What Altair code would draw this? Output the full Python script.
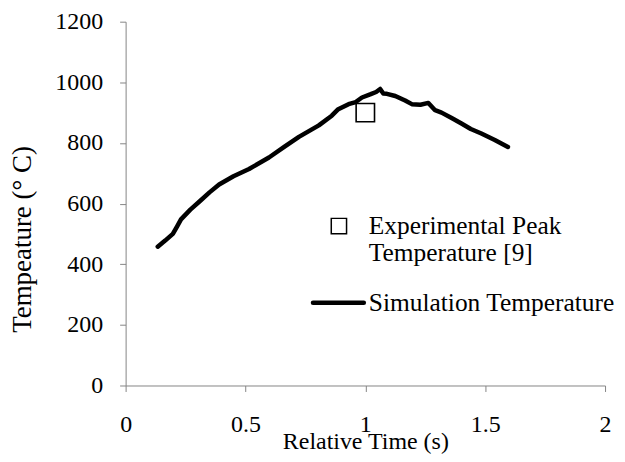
import altair as alt
import pandas as pd

# Simulation temperature curve
sim_time = [0.134, 0.165, 0.197, 0.215, 0.231, 0.27, 0.307, 0.35, 0.39, 0.45, 0.515,
            0.598, 0.66, 0.723, 0.806, 0.86, 0.885, 0.93, 0.96, 0.986, 1.02, 1.045,
            1.062, 1.075, 1.09, 1.125, 1.166, 1.194, 1.23, 1.263, 1.291, 1.318,
            1.36, 1.401, 1.44, 1.484, 1.54, 1.595]
sim_temp = [458, 478, 500, 525, 548, 580, 606, 637, 663, 690, 714,
            752, 786, 820, 858, 890, 910, 928, 935, 950, 960, 968,
            978, 963, 962, 955, 940, 928, 926, 932, 908, 900,
            882, 864, 846, 831, 810, 787]

# Experimental peak temperature
exp_time = [1.0]
exp_temp = [900]

x_ticks = [0, 0.5, 1, 1.5, 2]
y_ticks = [0, 200, 400, 600, 800, 1000, 1200]

FONT = "Liberation Serif"
FS = 24
LFS = 25.5
AX = "#868686"

sim_df = pd.DataFrame({"t": sim_time, "T": sim_temp})
exp_df = pd.DataFrame({"t": exp_time, "T": exp_temp})
one = pd.DataFrame({"a": [0]})

xscale = alt.Scale(domain=[0, 2], nice=False)
yscale = alt.Scale(domain=[0, 1200], nice=False)

xaxis = alt.Axis(values=x_ticks, format="~g", title="Relative Time (s)", grid=False,
                 labelFont=FONT, labelFontSize=FS, labelColor="black",
                 titleFont=FONT, titleFontSize=FS, titleColor="black", titleFontWeight="normal",
                 domainColor=AX, tickColor=AX, tickSize=6, labelPadding=21, titlePadding=-7,
                 labelFlush=False)
yaxis = alt.Axis(values=y_ticks, format="d", title="Tempeature (° C)", grid=False,
                 labelFont=FONT, labelFontSize=FS, labelColor="black",
                 titleFont=FONT, titleFontSize=27, titleColor="black", titleFontWeight="normal",
                 domainColor=AX, tickColor=AX, tickSize=6, labelPadding=17,
                 titleX=-103, titleY=218, titleAngle=-90, titleBaseline="middle", titleAlign="center",
                 labelFlush=False)

line = alt.Chart(sim_df).mark_line(color="black", strokeWidth=4.5, strokeCap="round",
                                   strokeJoin="round").encode(
    x=alt.X("t:Q", scale=xscale, axis=xaxis),
    y=alt.Y("T:Q", scale=yscale, axis=yaxis),
)

pts = alt.Chart(exp_df).mark_point(shape="square", filled=False, color="black",
                                   size=340, strokeWidth=1.6, opacity=1).encode(
    x=alt.X("t:Q", scale=xscale),
    y=alt.Y("T:Q", scale=yscale),
)

# Legend (drawn manually)
leg_sq = alt.Chart(one).mark_point(shape="square", filled=False, color="black",
                                   size=235, strokeWidth=1.5, opacity=1).encode(
    x=alt.value(214), y=alt.value(205))
leg_t1 = alt.Chart(one).mark_text(align="left", baseline="middle", font=FONT,
                                  fontSize=LFS, color="black").encode(
    x=alt.value(244), y=alt.value(205), text=alt.value("Experimental Peak"))
leg_t2 = alt.Chart(one).mark_text(align="left", baseline="middle", font=FONT,
                                  fontSize=LFS, color="black").encode(
    x=alt.value(244), y=alt.value(232), text=alt.value("Temperature [9]"))
leg_ln = alt.Chart(one).mark_rule(color="black", strokeWidth=4.5, strokeCap="round").encode(
    x=alt.value(188), x2=alt.value(239), y=alt.value(282))
leg_t3 = alt.Chart(one).mark_text(align="left", baseline="middle", font=FONT,
                                  fontSize=LFS, color="black").encode(
    x=alt.value(244), y=alt.value(282), text=alt.value("Simulation Temperature"))

chart = alt.layer(line, pts, leg_sq, leg_t1, leg_t2, leg_ln, leg_t3).properties(
    width=481, height=365,
    autosize=alt.AutoSizeParams(type="none"),
    padding={"left": 118, "top": 13, "right": 12, "bottom": 68},
    background="white",
).configure_view(stroke=None)

chart.save("out.html", embed_options={"renderer": "svg", "actions": False})
